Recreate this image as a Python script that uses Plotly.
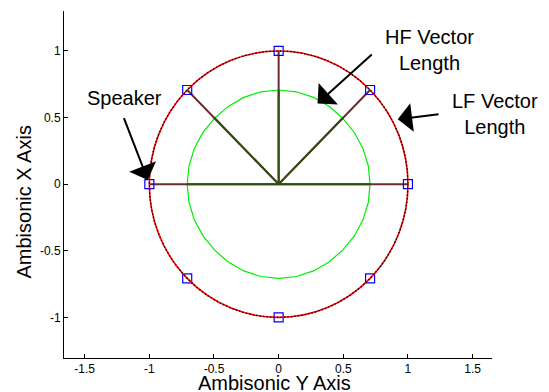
import numpy as np
import plotly.graph_objects as go

# ---- data ----
speaker_az = [0, 45, 90, 135, 180, 225, 270, 315]          # degrees
speaker_r = [1.0, 1.0, 1.0, 1.0, 1.0, 1.0, 1.0, 1.0]
vector_az = [270, 315, 0, 45, 90]
lf_length = [1.0, 1.0, 1.0, 1.0, 1.0]
hf_length = [0.707, 0.707, 0.707, 0.707, 0.707]
lf_radius = 1.0
hf_circle_az = [0, 11.25, 22.5, 33.75, 45, 56.25, 67.5, 78.75, 90, 101.25, 112.5,
                123.75, 135, 146.25, 157.5, 168.75, 180, 191.25, 202.5, 213.75, 225,
                236.25, 247.5, 258.75, 270, 281.25, 292.5, 303.75, 315, 326.25, 337.5,
                348.75, 360]
hf_circle_r = [0.707, 0.707, 0.705, 0.703, 0.700, 0.702, 0.705, 0.707, 0.707, 0.707, 0.705,
               0.703, 0.700, 0.702, 0.705, 0.707, 0.707, 0.707, 0.705, 0.703, 0.700,
               0.702, 0.705, 0.707, 0.707, 0.707, 0.705, 0.703, 0.700, 0.702, 0.705,
               0.707, 0.707]
x_ticks = [-1.5, -1, -0.5, 0, 0.5, 1, 1.5]
x_tick_labels = ["-1.5", "-1", "-0.5", "0", "0.5", "1", "1.5"]
y_ticks = [-1, -0.5, 0, 0.5, 1]
y_tick_labels = ["-1", "-0.5", "0", "0.5", "1"]


def polar(az, r):
    a = np.radians(np.asarray(az, dtype=float))
    r = np.asarray(r, dtype=float)
    return r * np.sin(a), r * np.cos(a)


def spokes(az, lengths):
    xs, ys = [], []
    px, py = polar(az, lengths)
    for x, y in zip(px, py):
        xs += [0, x, None]
        ys += [0, y, None]
    return xs, ys


FONT = "Liberation Sans, Arial, sans-serif"
fig = go.Figure()

# HF circle (green polygon)
gx, gy = polar(hf_circle_az, hf_circle_r)
fig.add_trace(go.Scatter(x=gx, y=gy, mode="lines",
                         line=dict(color="#00ee00", width=1.2), hoverinfo="skip"))

# LF vectors (maroon)
lx, ly = spokes(vector_az, lf_length)
fig.add_trace(go.Scatter(x=lx, y=ly, mode="lines",
                         line=dict(color="#6b2b2b", width=2), hoverinfo="skip"))
# HF vectors (dark green)
hx, hy = spokes(vector_az, hf_length)
fig.add_trace(go.Scatter(x=hx, y=hy, mode="lines",
                         line=dict(color="#2f4d10", width=2), hoverinfo="skip"))

# LF circle: red solid + black dotted
fig.add_shape(type="circle", xref="x", yref="y", x0=-lf_radius, x1=lf_radius,
              y0=-lf_radius, y1=lf_radius, line=dict(color="#ff0000", width=1.6), layer="above")
fig.add_shape(type="circle", xref="x", yref="y", x0=-lf_radius, x1=lf_radius,
              y0=-lf_radius, y1=lf_radius, line=dict(color="black", width=1.3, dash="1.3px,2.2px"),
              layer="above")

# speakers
sx, sy = polar(speaker_az, speaker_r)
fig.add_trace(go.Scatter(x=sx, y=sy, mode="markers",
                         marker=dict(symbol="square-open", size=9, color="#0000ff",
                                     line=dict(width=1.2, color="#0000ff")),
                         hoverinfo="skip"))

ann = []
# text labels
ann.append(dict(x=-1.19, y=0.647, xref="x", yref="y", text="Speaker", showarrow=False,
                xanchor="center", yanchor="middle",
                font=dict(family=FONT, size=20, color="black")))
ann.append(dict(x=(429 - 64) / 428, y=(358 - 50) / 347, xref="paper", yref="paper",
                text="HF Vector<br>Length", showarrow=False, xanchor="center", yanchor="middle",
                font=dict(family=FONT, size=20, color="black")))
ann.append(dict(x=(495.5 - 64) / 428, y=(358 - 114) / 347, xref="paper", yref="paper",
                text="LF Vector<br>Length", showarrow=False, xanchor="center", yanchor="middle",
                font=dict(family=FONT, size=20, color="black")))
# arrows
for tip, tail in [((-1.012, 0.032), (-1.201, 0.507)),
                  ((0.301, 0.606), (0.732, 0.983)),
                  ((0.921, 0.487), (1.248, 0.527))]:
    ann.append(dict(x=tip[0], y=tip[1], xref="x", yref="y", ax=tail[0], ay=tail[1],
                    axref="x", ayref="y", text="", showarrow=True, arrowhead=1,
                    arrowsize=2.4, arrowwidth=2, arrowcolor="black"))
# axis titles
ann.append(dict(x=0.4907, y=-0.071, xref="paper", yref="paper", text="Ambisonic Y Axis",
                showarrow=False, xanchor="center", yanchor="middle",
                font=dict(family=FONT, size=20, color="black")))
ann.append(dict(x=-0.0946, y=0.4496, xref="paper", yref="paper", text="Ambisonic X Axis",
                showarrow=False, xanchor="center", yanchor="middle", textangle=-90,
                font=dict(family=FONT, size=20, color="black")))

fig.update_layout(
    width=549, height=392,
    margin=dict(l=64, r=57, t=11, b=34),
    paper_bgcolor="white", plot_bgcolor="white",
    showlegend=False,
    annotations=ann,
    xaxis=dict(range=[-1.66, 1.65], tickvals=x_ticks, ticktext=x_tick_labels,
               showgrid=False, zeroline=False, showline=True, linecolor="black",
               linewidth=1, ticks="inside", ticklen=4, tickcolor="black",
               tickfont=dict(family=FONT, size=12, color="black"), mirror=False),
    yaxis=dict(range=[-1.305, 1.30], tickvals=y_ticks, ticktext=y_tick_labels,
               showgrid=False, zeroline=False, showline=True, linecolor="black",
               linewidth=1, ticks="inside", ticklen=4, tickcolor="black",
               tickfont=dict(family=FONT, size=12, color="black"), mirror=False),
)

fig.write_html("out.html")
